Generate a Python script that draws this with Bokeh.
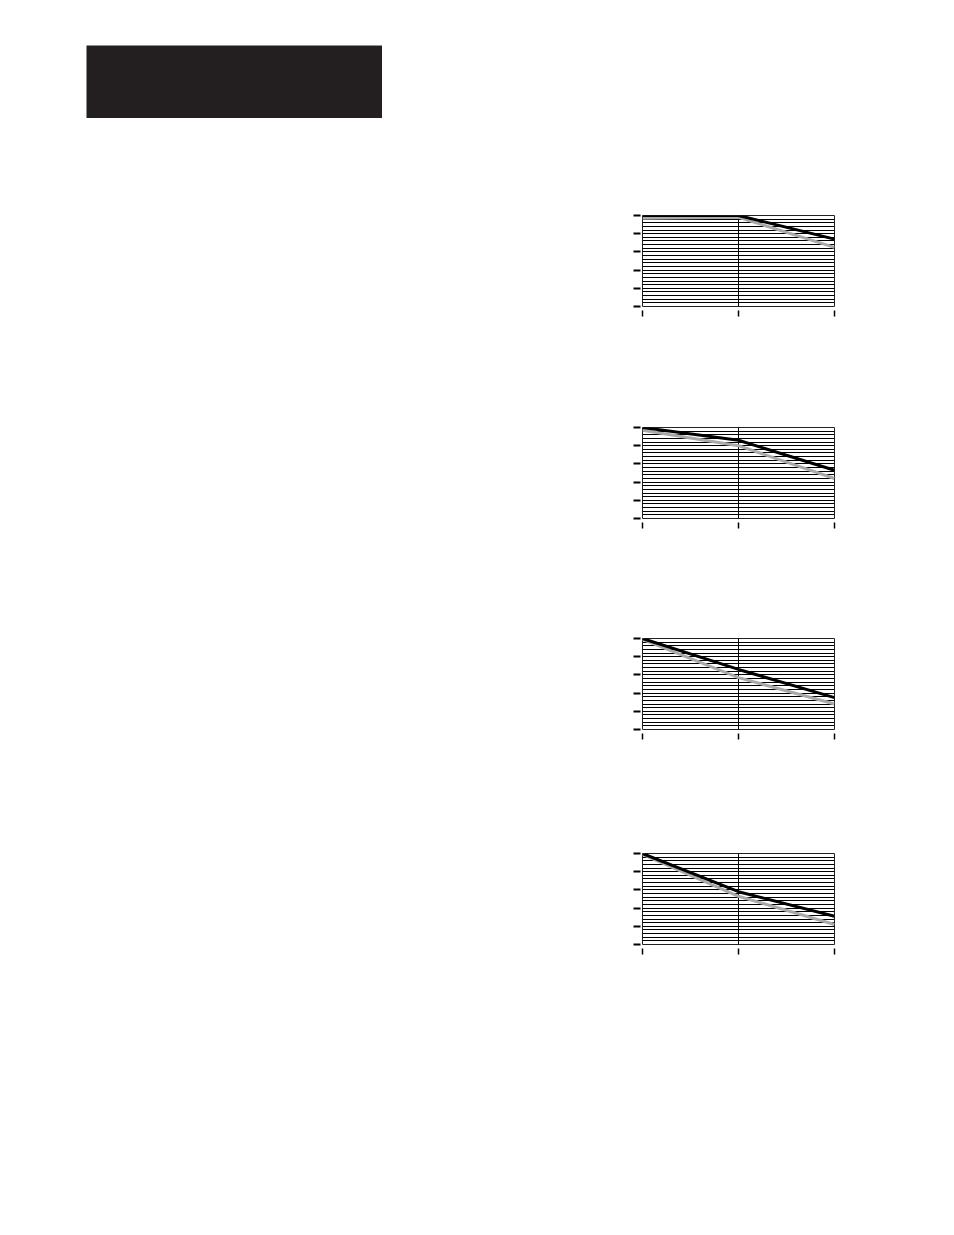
from bokeh.plotting import figure
from bokeh.layouts import column, row
from bokeh.models import Spacer, SingleIntervalTicker, FixedTicker, Range1d
from bokeh.embed import file_html
from bokeh.resources import INLINE

# ---- data ----
x_points = [0, 1, 2]
y_major_ticks = [0, 20, 40, 60, 80, 100]

black_1 = [100, 100, 74]
gray_1 = [97, 98, 65]

black_2 = [100, 86, 53]
gray_2 = [97, 80, 44]

black_3 = [100, 66, 35]
gray_3 = [99, 57, 28]

black_4 = [100, 58, 31]
gray_4 = [99, 53, 22]

series = [(black_1, gray_1), (black_2, gray_2), (black_3, gray_3), (black_4, gray_4)]

BORDER_L, BORDER_R, BORDER_T, BORDER_B = 20, 10, 10, 20
FRAME_W, FRAME_H = 192, 91


def make_chart(black, gray):
    p = figure(frame_width=FRAME_W, frame_height=FRAME_H,
               output_backend="svg", toolbar_location=None,
               x_range=Range1d(0, 2), y_range=Range1d(0, 100),
               min_border_left=BORDER_L, min_border_right=BORDER_R,
               min_border_top=BORDER_T, min_border_bottom=BORDER_B,
               background_fill_color="white", border_fill_color="white")
    p.outline_line_color = "#222222"
    p.outline_line_width = 1

    p.xaxis.ticker = FixedTicker(ticks=x_points)
    p.yaxis.ticker = SingleIntervalTicker(interval=20, num_minor_ticks=5)

    for ax in (p.xaxis[0], p.yaxis[0]):
        ax.axis_line_color = None
        ax.minor_tick_line_color = None
        ax.major_label_standoff = 0
        ax.major_label_text_font_size = "0px"
    p.xaxis.major_label_overrides = {v: "" for v in x_points}
    p.yaxis.major_label_overrides = {v: "" for v in y_major_ticks}

    p.xaxis.major_tick_in = -4
    p.xaxis.major_tick_out = 10
    p.xaxis.major_tick_line_width = 1.5
    p.xaxis.major_tick_line_color = "black"

    p.yaxis.major_tick_in = -2
    p.yaxis.major_tick_out = 9
    p.yaxis.major_tick_line_width = 2
    p.yaxis.major_tick_line_color = "black"

    p.xgrid.grid_line_color = "black"
    p.xgrid.grid_line_width = 1
    p.ygrid.grid_line_color = "black"
    p.ygrid.grid_line_width = 1
    p.ygrid.minor_grid_line_color = "black"
    p.ygrid.minor_grid_line_width = 1

    p.line(x_points, gray, line_color="#a9a9a9", line_width=3)
    p.line(x_points, black, line_color="black", line_width=3)
    return p


header = figure(width=296, height=73, output_backend="svg", toolbar_location=None,
                x_range=Range1d(0, 1), y_range=Range1d(0, 1),
                min_border=0, background_fill_color="#231f20",
                border_fill_color="#231f20")
header.axis.visible = False
header.grid.visible = False
header.outline_line_color = None

charts = [make_chart(b, g) for b, g in series]

chart_left = 622
gaps = [87, 91, 90, 94]

children = [Spacer(height=45), row(Spacer(width=86), header)]
for gap, c in zip(gaps, charts):
    children.append(Spacer(height=gap))
    children.append(row(Spacer(width=chart_left), c))

layout = column(*children)

open("out.html", "w").write(file_html(layout, INLINE))
